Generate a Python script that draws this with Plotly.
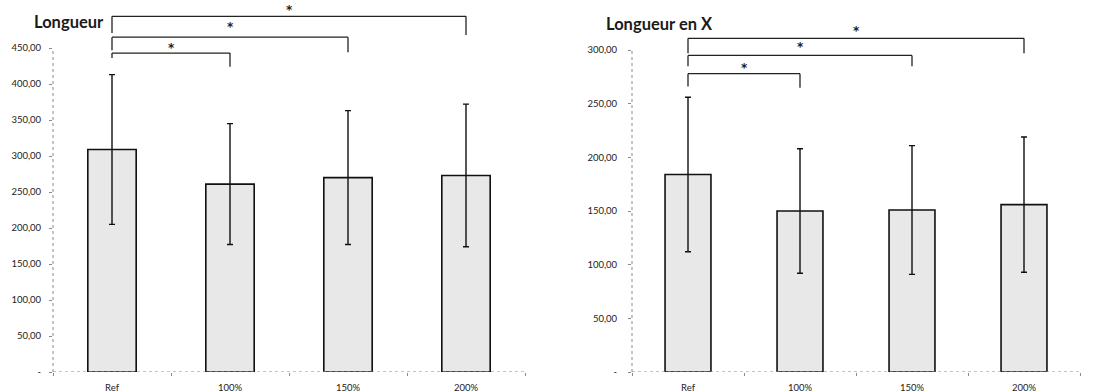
import plotly.graph_objects as go

categories = ["Ref", "100%", "150%", "200%"]

longueur_mean = [309, 261, 270, 273]
longueur_sd = [104, 84, 93, 99]

longueur_x_mean = [184, 150, 151, 156]
longueur_x_sd = [72, 58, 60, 63]

left_ticks = [0, 50, 100, 150, 200, 250, 300, 350, 400, 450]
left_ticktext = ["-", "50,00", "100,00", "150,00", "200,00", "250,00", "300,00", "350,00", "400,00", "450,00"]
right_ticks = [0, 50, 100, 150, 200, 250, 300]
right_ticktext = ["-", "50,00", "100,00", "150,00", "200,00", "250,00", "300,00"]

titles = ["Longueur", "Longueur en X"]

# significance brackets: (target index, level, left-leg bottom, right-leg bottom, star y)
left_brackets = [(1, 443, 436, 424, 450), (2, 465, 447, 444, 479), (3, 494, 471, 468, 503)]
right_brackets = [(1, 278, 266, 265, 283), (2, 295, 285, 285, 303), (3, 311, 297, 297, 318)]

BAR_FILL = "#e8e8e8"
AXIS_GRAY = "#8a8a8a"
FONT = "Lato, 'Open Sans', 'DejaVu Sans', sans-serif"

fig = go.Figure()

fig.add_trace(go.Bar(
    x=categories, y=longueur_mean, xaxis="x", yaxis="y",
    marker=dict(color=BAR_FILL, line=dict(color="#111111", width=1.6)),
    width=0.41,
    error_y=dict(type="data", array=longueur_sd, visible=True, color="#111111", thickness=1.4, width=3),
    showlegend=False,
))
fig.add_trace(go.Bar(
    x=categories, y=longueur_x_mean, xaxis="x2", yaxis="y2",
    marker=dict(color=BAR_FILL, line=dict(color="#111111", width=1.6)),
    width=0.41,
    error_y=dict(type="data", array=longueur_x_sd, visible=True, color="#111111", thickness=1.4, width=3),
    showlegend=False,
))

shapes = []
annotations = []

def add_axes_lines(xr, yr, ytop):
    shapes.append(dict(type="line", xref=f"{xr} domain", yref=yr, x0=0, x1=1, y0=0, y1=0,
                       line=dict(color=AXIS_GRAY, width=1, dash="dot")))
    shapes.append(dict(type="line", xref=f"{xr} domain", yref=yr, x0=0, x1=0, y0=0, y1=ytop,
                       line=dict(color=AXIS_GRAY, width=1, dash="dot")))

def add_brackets(xr, yr, brackets):
    for (k, lvl, lb, rb, sy) in brackets:
        lc = dict(color="#222222", width=1.3)
        shapes.append(dict(type="line", xref=xr, yref=yr, x0=0, x1=0, y0=lb, y1=lvl, line=lc))
        shapes.append(dict(type="line", xref=xr, yref=yr, x0=0, x1=k, y0=lvl, y1=lvl, line=lc))
        shapes.append(dict(type="line", xref=xr, yref=yr, x0=k, x1=k, y0=lvl, y1=rb, line=lc))
        annotations.append(dict(xref=xr, yref=yr, x=k / 2, y=sy, text="<b>*</b>", showarrow=False,
                                font=dict(family="'DejaVu Sans', sans-serif", size=12, color="#222222"),
                                yanchor="middle"))

add_axes_lines("x", "y", 450)
add_axes_lines("x2", "y2", 302)
add_brackets("x", "y", left_brackets)
add_brackets("x2", "y2", right_brackets)

annotations.append(dict(xref="paper", yref="paper", x=32 / 1114, y=(372 - 22) / 372, xanchor="left",
                        yanchor="middle", text=f"<b>{titles[0]}</b>", showarrow=False,
                        font=dict(family=FONT, size=16.5, color="#1a1a1a")))
annotations.append(dict(xref="paper", yref="paper", x=604 / 1114, y=(372 - 24) / 372, xanchor="left",
                        yanchor="middle", text=f"<b>{titles[1]}</b>", showarrow=False,
                        font=dict(family=FONT, size=16.5, color="#1a1a1a")))

tickfont = dict(family=FONT, size=9.5, color="#222222")

fig.update_layout(
    width=1114, height=392,
    margin=dict(l=0, r=0, t=0, b=20),
    paper_bgcolor="white", plot_bgcolor="white",
    font=dict(family=FONT),
    xaxis=dict(domain=[53 / 1114, 525 / 1114], range=[-0.5, 3.5], showgrid=False, zeroline=False,
               showline=False, ticks="outside", ticklen=3, tickcolor=AXIS_GRAY, tickson="boundaries",
               tickfont=tickfont, anchor="y", type="category", ticklabelstandoff=8),
    yaxis=dict(domain=[0, 1], range=[0, 372 / 0.72], showgrid=False, zeroline=False, showline=False,
               tickvals=left_ticks, ticktext=left_ticktext, ticks="outside", ticklen=3,
               tickcolor=AXIS_GRAY, tickfont=tickfont, anchor="x", ticklabelstandoff=6),
    xaxis2=dict(domain=[632 / 1114, 1080 / 1114], range=[-0.5, 3.5], showgrid=False, zeroline=False,
                showline=False, ticks="outside", ticklen=3, tickcolor=AXIS_GRAY, tickson="boundaries",
                tickfont=tickfont, anchor="y2", type="category", ticklabelstandoff=8),
    yaxis2=dict(domain=[0, 1], range=[0, 372 / 1.073], showgrid=False, zeroline=False, showline=False,
                tickvals=right_ticks, ticktext=right_ticktext, ticks="outside", ticklen=3,
                tickcolor=AXIS_GRAY, tickfont=tickfont, anchor="x2", ticklabelstandoff=9),
    shapes=shapes,
    annotations=annotations,
    bargap=0.59,
)

fig.write_html("out.html")
